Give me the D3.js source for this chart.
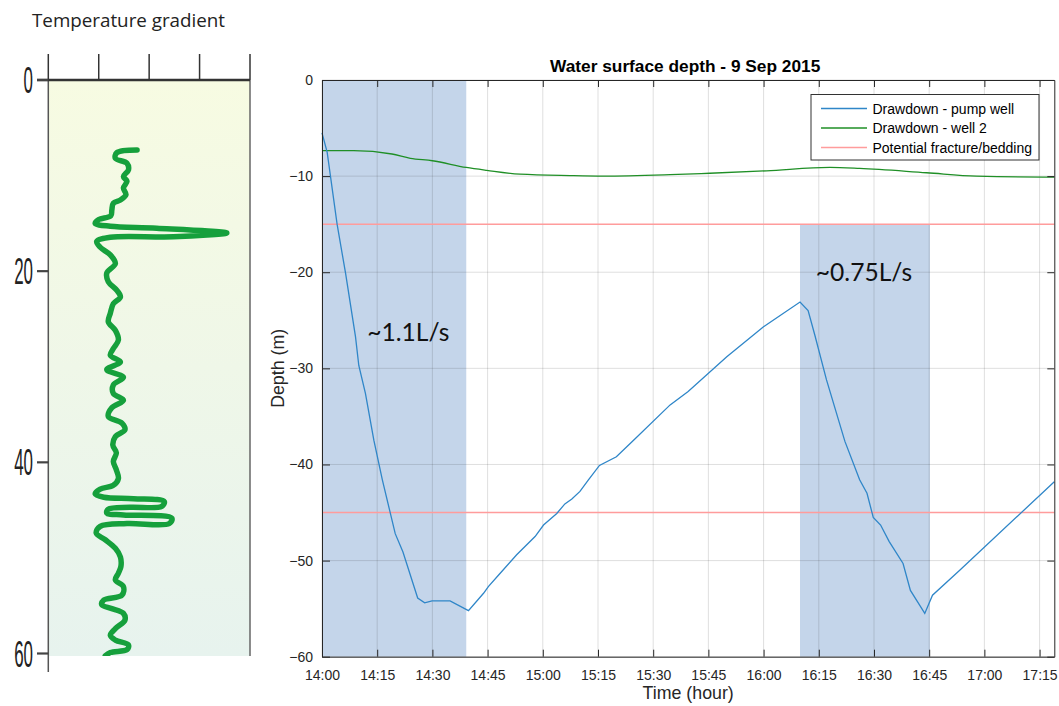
<!DOCTYPE html>
<html><head><meta charset="utf-8">
<script src="https://cdn.jsdelivr.net/npm/d3@7"></script>
<style>body{margin:0;background:#fff}svg{display:block}</style>
</head><body><svg id="c" width="1059" height="706"></svg>
<script>
// ---------- data ----------
// minutes after 14:00 on 9 Sep 2015
const pumpMinutes = [0,1.4,4.1,6.4,9.1,10,11.8,14.1,16.4,19.9,22,26,27.9,29.9,34.8,39.8,43.9,45.2,48,52.9,57.9,60.2,63.8,66,67.9,70.1,72.4,75.4,80,84.6,94.6,99.5,110,119.9,129.9,132.1,133.9,137.1,142.1,146.1,148.1,149.8,151.8,154.1,157.9,159.9,163.8,165.9,173.3,199];
const pumpDepth   = [-5.5,-7.5,-15.0,-20.1,-26.7,-29.7,-32.6,-37.5,-41.6,-47.2,-49.1,-53.9,-54.4,-54.2,-54.2,-55.2,-53.4,-52.7,-51.5,-49.4,-47.5,-46.3,-45.1,-44.1,-43.6,-42.8,-41.6,-40.1,-39.2,-37.5,-33.8,-32.4,-28.8,-25.7,-23.1,-24.0,-26.5,-31.2,-37.6,-41.6,-43.0,-45.5,-46.3,-48.0,-50.3,-53.1,-55.5,-53.6,-51.0,-41.8];
const well2Minutes = [0,8.6,19,24,30,39.2,44.8,53.8,67.4,76.5,94.6,105.4,120.8,138,146.1,164.3,177.8,195.9,199];
const well2Depth   = [-7.35,-7.35,-7.7,-8.15,-8.4,-9.1,-9.4,-9.8,-9.95,-10.0,-9.85,-9.7,-9.45,-9.1,-9.2,-9.65,-10.0,-10.1,-10.1];
const fractureDepths = [-15, -45];
const periodStart = [0, 129.9];
const periodEnd   = [39.2, 165.2];
const periodTop   = [0, -15];
const periodLabels = ["~1.1L/s", "~0.75L/s"];
const depthTicks = [0,-10,-20,-30,-40,-50,-60];
const timeTickLabels = ["14:00","14:15","14:30","14:45","15:00","15:15","15:30","15:45","16:00","16:15","16:30","16:45","17:00","17:15"];
const legendLabels = ["Drawdown - pump well","Drawdown - well 2","Potential fracture/bedding"];
const titleText = "Water surface depth - 9 Sep 2015";

// temperature gradient log (depth m, relative gradient units 0-4)
const tempDepth = [7.32,7.6,8.2,8.7,9.4,10.1,10.6,11.3,12.0,12.55,12.9,13.6,14.2,14.6,15.0,15.3,15.5,16.0,16.4,16.45,16.9,17.5,18.3,19.2,20.2,21.1,22.0,22.7,23.4,24.4,25.3,26.2,27.2,28.1,28.8,29.5,30.3,31.1,31.9,32.8,33.5,34.3,35.2,35.9,36.6,37.3,38.2,39.0,39.9,40.8,41.7,42.4,42.8,43.3,43.65,43.8,44.1,44.6,44.7,44.9,45.3,45.5,45.85,46.4,46.4,46.7,47.4,48.1,49.0,49.9,50.9,51.6,52.3,53.0,53.9,54.4,54.9,55.3,55.8,56.5,57.4,58.1,58.6,59.1,59.6,59.9,60.25];
const tempValue = [1.76,1.36,1.33,1.56,1.59,1.49,1.56,1.49,1.54,1.43,1.29,1.26,1.24,1.0,0.93,1.23,2.15,3.54,2.48,1.23,0.96,1.03,1.23,1.33,1.16,1.19,1.36,1.43,1.29,1.23,1.19,1.33,1.39,1.29,1.23,1.43,1.16,1.49,1.29,1.29,1.49,1.26,1.19,1.46,1.52,1.33,1.28,1.35,1.29,1.35,1.39,1.29,1.03,0.93,1.10,1.69,2.30,2.25,1.62,1.19,1.16,1.49,2.45,2.40,1.56,1.03,0.95,1.13,1.33,1.43,1.44,1.39,1.33,1.49,1.46,1.10,1.06,1.26,1.49,1.52,1.33,1.23,1.33,1.59,1.56,1.23,1.13];
const tempDepthTicks = [0,20,40,60];
const tempValueTicks = [0,1,2,3,4];
const leftTitle = "Temperature gradient";

// ---------- setup ----------
const svg = d3.select("#c");
const t0 = new Date(2015, 8, 9, 14, 0, 0);
const toDate = m => new Date(t0.getTime() + m * 60000);
const parseHM = s => { const [h, m] = s.split(":").map(Number); return new Date(2015, 8, 9, h, m, 0); };

const x = d3.scaleTime().domain([t0, toDate(199)]).range([322, 1054.3]);
const y = d3.scaleLinear().domain([-60, 0]).range([656.7, 80]);
const X0 = x.range()[0], X1 = x.range()[1], Y0 = y.range()[1], Y1 = y.range()[0];
const font = "Arial, 'Liberation Sans', sans-serif";
const axisCol = "#262626";

// ---------- left panel ----------
const xL = d3.scaleLinear().domain([0, 4]).range([48.3, 250]);
const yL = d3.scaleLinear().domain([0, 60]).range([80, 653.5]);
const defs = svg.append("defs");
const grad = defs.append("linearGradient").attr("id", "bg").attr("x1", 0).attr("y1", 0).attr("x2", 0).attr("y2", 1);
grad.append("stop").attr("offset", "0%").attr("stop-color", "#f7fbe2");
grad.append("stop").attr("offset", "100%").attr("stop-color", "#e7f3ee");
defs.append("clipPath").attr("id", "lclip").append("rect")
  .attr("x", xL(0)).attr("y", yL(0)).attr("width", xL(4) - xL(0)).attr("height", 656 - yL(0));

svg.append("text").attr("x", 32).attr("y", 27).attr("font-family", "'Open Sans', sans-serif")
  .attr("font-size", 18.8).attr("fill", "#222").text(leftTitle);

svg.append("rect").attr("x", xL(0)).attr("y", yL(0)).attr("width", xL(4) - xL(0)).attr("height", 656 - yL(0))
  .attr("fill", "url(#bg)");

const lineL = d3.line().x(d => xL(d[1])).y(d => yL(d[0])).curve(d3.curveCatmullRom.alpha(0.5));
svg.append("path").attr("clip-path", "url(#lclip)")
  .attr("d", lineL(tempDepth.map((d, i) => [d, tempValue[i]])))
  .attr("fill", "none").attr("stroke", "#16a03c").attr("stroke-width", 5.5)
  .attr("stroke-linecap", "round").attr("stroke-linejoin", "round");

// left axis lines
svg.append("line").attr("x1", xL(4)).attr("x2", xL(4)).attr("y1", yL(0)).attr("y2", 656).attr("stroke", "#666").attr("stroke-width", 1.5);
svg.append("line").attr("x1", xL(0)).attr("x2", xL(0)).attr("y1", yL(0)).attr("y2", 672).attr("stroke", "#555").attr("stroke-width", 1.5);
svg.append("line").attr("x1", 37).attr("x2", xL(4)).attr("y1", yL(0)).attr("y2", yL(0)).attr("stroke", "#333").attr("stroke-width", 2.5);
svg.selectAll(".ltt").data(tempValueTicks).enter().append("line")
  .attr("x1", d => xL(d)).attr("x2", d => xL(d)).attr("y1", 54).attr("y2", yL(0))
  .attr("stroke", "#333").attr("stroke-width", 1.5);
svg.selectAll(".lyt").data(tempDepthTicks).enter().append("line")
  .attr("x1", 37).attr("x2", xL(0)).attr("y1", d => yL(d)).attr("y2", d => yL(d))
  .attr("stroke", "#444").attr("stroke-width", 2.2);
svg.selectAll(".lyl").data(tempDepthTicks).enter().append("text")
  .attr("transform", d => `translate(33,${yL(d) + 13}) scale(0.47,1)`)
  .attr("text-anchor", "end").attr("font-family", font).attr("font-size", 36).attr("fill", "#222")
  .text(d => d);

// ---------- main chart ----------
svg.selectAll(".shade").data(periodStart.map((s, i) => i)).enter().append("rect")
  .attr("x", i => x(toDate(periodStart[i])))
  .attr("width", i => x(toDate(periodEnd[i])) - x(toDate(periodStart[i])))
  .attr("y", i => y(periodTop[i]))
  .attr("height", i => y(-60) - y(periodTop[i]))
  .attr("fill", "#c4d5ea");

const tickDates = timeTickLabels.map(parseHM);
svg.append("g").selectAll("line").data(tickDates).enter().append("line")
  .attr("x1", d => x(d)).attr("x2", d => x(d)).attr("y1", Y0).attr("y2", Y1)
  .attr("stroke", axisCol).attr("stroke-opacity", 0.15);
svg.append("g").selectAll("line").data(depthTicks).enter().append("line")
  .attr("x1", X0).attr("x2", X1).attr("y1", d => y(d)).attr("y2", d => y(d))
  .attr("stroke", axisCol).attr("stroke-opacity", 0.15);

svg.append("g").selectAll("line").data(fractureDepths).enter().append("line")
  .attr("x1", X0).attr("x2", X1).attr("y1", d => y(d)).attr("y2", d => y(d))
  .attr("stroke", "#ff9c9c").attr("stroke-width", 1.4);

const line = d3.line().x(d => x(toDate(d[0]))).y(d => y(d[1]));
const sm = d3.line().x(d => x(toDate(d[0]))).y(d => y(d[1])).curve(d3.curveMonotoneX);
svg.append("path").attr("d", sm(well2Minutes.map((m, i) => [m, well2Depth[i]])))
  .attr("fill", "none").attr("stroke", "#1f8f26").attr("stroke-width", 1.3);
svg.append("path").attr("d", line(pumpMinutes.map((m, i) => [m, pumpDepth[i]])))
  .attr("fill", "none").attr("stroke", "#2f86c8").attr("stroke-width", 1.3);

const gB = svg.append("g").attr("transform", `translate(0,${Y1})`)
  .call(d3.axisBottom(x).tickValues(tickDates).tickFormat(d3.timeFormat("%H:%M")).tickSize(-7).tickSizeOuter(0).tickPadding(13));
const gT = svg.append("g").attr("transform", `translate(0,${Y0})`)
  .call(d3.axisTop(x).tickValues(tickDates).tickFormat("").tickSize(-7).tickSizeOuter(0));
const gL = svg.append("g").attr("transform", `translate(${X0},0)`)
  .call(d3.axisLeft(y).tickValues(depthTicks).tickSize(-8).tickSizeOuter(0).tickPadding(9));
const gR = svg.append("g").attr("transform", `translate(${X1},0)`)
  .call(d3.axisRight(y).tickValues(depthTicks).tickFormat("").tickSize(-7).tickSizeOuter(0));
[gB, gT, gL, gR].forEach(g => {
  g.selectAll("path.domain").attr("stroke", axisCol);
  g.selectAll(".tick line").attr("stroke", axisCol);
  g.selectAll("text").attr("font-family", font).attr("font-size", 14).attr("fill", axisCol);
});

svg.append("text").attr("x", (X0 + X1) / 2 - 3).attr("y", 72).attr("text-anchor", "middle")
  .attr("font-family", font).attr("font-weight", "bold").attr("font-size", 17.3).attr("fill", "#000").text(titleText);
svg.append("text").attr("x", (X0 + X1) / 2).attr("y", 699).attr("text-anchor", "middle")
  .attr("font-family", font).attr("font-size", 17.8).attr("fill", axisCol).text("Time (hour)");
svg.append("text").attr("transform", `translate(284,${(Y0 + Y1) / 2}) rotate(-90)`).attr("text-anchor", "middle")
  .attr("font-family", font).attr("font-size", 17.8).attr("fill", axisCol).text("Depth (m)");

const annAnchors = [[12.3, -27.2], [134.2, -20.9]];
svg.selectAll(".ann").data(periodLabels).enter().append("text")
  .attr("x", (d, i) => x(toDate(annAnchors[i][0])))
  .attr("y", (d, i) => y(annAnchors[i][1]))
  .attr("font-family", "Lato, 'Open Sans', sans-serif").attr("font-size", 24.6).attr("fill", "#111")
  .text(d => d);

const lg = svg.append("g").attr("transform", "translate(811,94.5)");
lg.append("rect").attr("width", 228).attr("height", 65.5).attr("fill", "#fff").attr("stroke", "#333").attr("stroke-width", 1);
const legendColors = ["#2f86c8", "#1f8f26", "#ff9c9c"];
legendLabels.forEach((l, i) => {
  const yy = 14 + i * 19.5;
  lg.append("line").attr("x1", 10).attr("x2", 56).attr("y1", yy).attr("y2", yy).attr("stroke", legendColors[i]).attr("stroke-width", 1.3);
  lg.append("text").attr("x", 61.5).attr("y", yy + 5).attr("font-family", font).attr("font-size", 14).attr("fill", "#000").text(l);
});
</script></body></html>
